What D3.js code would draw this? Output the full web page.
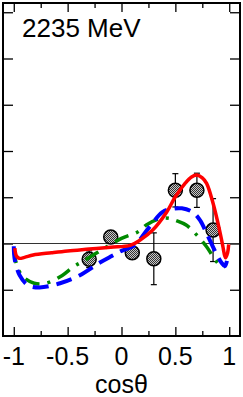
<!DOCTYPE html>
<html>
<head>
<meta charset="utf-8">
<script src="https://cdn.jsdelivr.net/npm/d3@7"></script>
<style>
  body { margin: 0; background: #fff; }
  text { font-family: "Liberation Sans", Arial, sans-serif; fill: #000; }
</style>
</head>
<body>
<div id="chart-area"></div>
<script>
// data points
let cosTheta = [-0.3, -0.1, 0.1, 0.3, 0.5, 0.7, 0.85];
let values = [-0.34, 0.14, -0.20, -0.33, 1.15, 1.15, 0.29];
let errors = [0.18, 0.1, 0.1, 0.56, 0.36, 0.37, 0.68];

// model curves
let redX = [-0.99, -0.975, -0.95, -0.9, -0.82, -0.65, -0.5, -0.3, -0.1, 0.08, 0.17, 0.29, 0.42, 0.5, 0.59, 0.65, 0.7, 0.75, 0.79, 0.85, 0.91, 0.94, 0.965, 0.985, 0.995];
let redY = [-0.1, -0.27, -0.32, -0.3, -0.25, -0.2, -0.16, -0.12, -0.08, -0.04, 0.07, 0.29, 0.68, 1.01, 1.30, 1.44, 1.48, 1.42, 1.30, 0.87, 0.29, -0.05, -0.31, -0.2, -0.02];

let blueX = [-1.0, -0.99, -0.945, -0.87, -0.76, -0.57, -0.39, -0.2, -0.09, 0.0, 0.12, 0.26, 0.38, 0.47, 0.56, 0.66, 0.73, 0.79, 0.88, 0.93, 0.96, 0.985];
let blueY = [-0.06, -0.36, -0.69, -0.90, -0.95, -0.86, -0.69, -0.41, -0.27, -0.16, -0.04, 0.36, 0.68, 0.75, 0.76, 0.68, 0.50, 0.22, -0.22, -0.42, -0.49, -0.3];

let greenX = [-1.0, -0.98, -0.945, -0.9, -0.81, -0.7, -0.55, -0.45, -0.34, -0.22, 0.0, 0.15, 0.23, 0.36, 0.45, 0.5, 0.6, 0.7, 0.79, 0.86, 0.92, 0.96];
let greenY = [-0.1, -0.4, -0.62, -0.75, -0.86, -0.86, -0.69, -0.51, -0.36, -0.19, 0.11, 0.25, 0.40, 0.54, 0.54, 0.50, 0.40, 0.18, -0.07, -0.32, -0.48, -0.5];

let xTicks = [-1, -0.75, -0.5, -0.25, 0, 0.25, 0.5, 0.75, 1];
let xLabels = [-1, -0.5, 0, 0.5, 1];
let yTicks = [-1, 0, 1, 2, 3, 4, 5];

let svg = d3.select("#chart-area").append("svg").attr("width", 243).attr("height", 397);

let x = d3.scaleLinear().domain([-1.1, 1.1]).range([3, 240]);
let y = d3.scaleLinear().domain([-2, 5.2]).range([336, 3]);

// checkered fill for the data points
let pat = svg.append("defs").append("pattern")
  .attr("id", "checker").attr("width", 2).attr("height", 2)
  .attr("patternUnits", "userSpaceOnUse");
pat.append("rect").attr("width", 2).attr("height", 2).attr("fill", "#c8c8c8");
pat.append("rect").attr("width", 1).attr("height", 1).attr("fill", "#333");
pat.append("rect").attr("x", 1).attr("y", 1).attr("width", 1).attr("height", 1).attr("fill", "#333");

// ticks (inside the frame)
let isMajor = d => xLabels.includes(d);
function xAxis(g, axis, sign) {
  g.call(axis.tickValues(xTicks).tickSize(0).tickFormat(""));
  g.select(".domain").remove();
  g.selectAll(".tick line").attr("y2", d => sign * (isMajor(d) ? 9 : 5)).attr("stroke", "#000").attr("stroke-width", 1.3);
}
svg.append("g").attr("transform", "translate(0,336)").call(g => xAxis(g, d3.axisBottom(x), -1));
svg.append("g").attr("transform", "translate(0,3)").call(g => xAxis(g, d3.axisTop(x), 1));

svg.append("g").attr("transform", "translate(3,0)")
  .call(d3.axisRight(y).tickValues(yTicks).tickSize(10).tickFormat(""))
  .call(g => g.select(".domain").remove())
  .call(g => g.selectAll(".tick line").attr("stroke-width", 1.3));
svg.append("g").attr("transform", "translate(240,0)")
  .call(d3.axisLeft(y).tickValues(yTicks).tickSize(10).tickFormat(""))
  .call(g => g.select(".domain").remove())
  .call(g => g.selectAll(".tick line").attr("stroke-width", 1.3));

// tick labels
svg.selectAll(".xlabel").data(xLabels).enter()
  .append("text")
    .attr("x", d => x(d))
    .attr("y", 365)
    .attr("text-anchor", "middle")
    .attr("font-size", 25)
    .text(d => String(d));

svg.append("text").attr("x", x(0)).attr("y", 393).attr("text-anchor", "middle")
  .attr("font-size", 25).text("cosθ");

svg.append("text").attr("x", 22).attr("y", 37).attr("font-size", 26).text("2235 MeV");

// zero line
svg.append("line")
  .attr("x1", x(-1.1)).attr("x2", x(1.1))
  .attr("y1", y(0)).attr("y2", y(0))
  .attr("stroke", "#333").attr("stroke-width", 1);

// error bars + points
let pts = cosTheta.map((c, i) => ({ c: c, v: values[i], e: errors[i] }));
let eb = svg.selectAll(".err").data(pts).enter().append("g");
eb.append("line")
  .attr("x1", d => x(d.c)).attr("x2", d => x(d.c))
  .attr("y1", d => y(d.v + d.e)).attr("y2", d => y(d.v - d.e))
  .attr("stroke", "#000").attr("stroke-width", 1.2);
eb.append("line")
  .attr("x1", d => x(d.c) - 3).attr("x2", d => x(d.c) + 3)
  .attr("y1", d => y(d.v + d.e)).attr("y2", d => y(d.v + d.e))
  .attr("stroke", "#000").attr("stroke-width", 1.2);
eb.append("line")
  .attr("x1", d => x(d.c) - 3).attr("x2", d => x(d.c) + 3)
  .attr("y1", d => y(d.v - d.e)).attr("y2", d => y(d.v - d.e))
  .attr("stroke", "#000").attr("stroke-width", 1.2);

svg.selectAll("circle").data(pts).enter()
  .append("circle")
    .attr("cx", d => x(d.c))
    .attr("cy", d => y(d.v))
    .attr("r", 7)
    .attr("fill", "url(#checker)")
    .attr("stroke", "#000")
    .attr("stroke-width", 1.5);

// curves
let line = d3.line().x(d => x(d[0])).y(d => y(d[1])).curve(d3.curveCatmullRom);
let curves = [
  { xs: greenX, ys: greenY, color: "#008a00", width: 3.5, dash: "15,8,3,8" },
  { xs: blueX, ys: blueY, color: "#0000ff", width: 4, dash: "16,8" },
  { xs: redX, ys: redY, color: "#ff0000", width: 3.5, dash: null }
];
curves.forEach(c => {
  svg.append("path")
    .attr("d", line(c.xs.map((v, i) => [v, c.ys[i]])))
    .attr("fill", "none")
    .attr("stroke", c.color)
    .attr("stroke-width", c.width)
    .attr("stroke-dasharray", c.dash);
});

// frame
svg.append("rect").attr("x", 3).attr("y", 3).attr("width", 237).attr("height", 333)
  .attr("fill", "none").attr("stroke", "#000").attr("stroke-width", 2);
</script>
</body>
</html>
